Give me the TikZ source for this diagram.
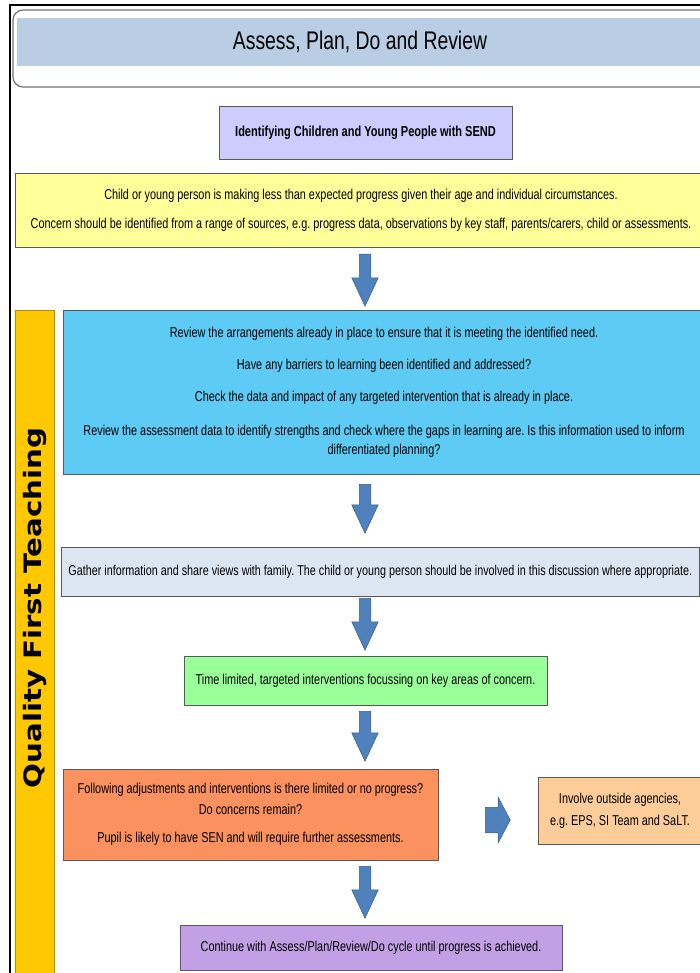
\documentclass[tikz,border=0pt]{standalone}
\usepackage{fontspec}
\setmainfont[FakeStretch=0.76]{Liberation Sans}
\newfontfamily\qftfont[FakeStretch=1.22]{DejaVu Sans}
\usetikzlibrary{shapes.arrows,shadows}
\definecolor{titlebar}{RGB}{185,205,229}
\definecolor{identc}{RGB}{204,204,255}
\definecolor{yellowc}{RGB}{255,255,153}
\definecolor{bluec}{RGB}{94,203,245}
\definecolor{gatherc}{RGB}{220,230,242}
\definecolor{greenc}{RGB}{153,255,153}
\definecolor{orangec}{RGB}{250,145,95}
\definecolor{peachc}{RGB}{252,204,153}
\definecolor{purplec}{RGB}{195,160,230}
\definecolor{goldc}{RGB}{255,200,0}
\definecolor{arrowc}{RGB}{79,129,189}
\definecolor{arrowd}{RGB}{56,93,138}
\tikzset{
  box/.style={draw=black!65, line width=0.9pt, inner sep=0pt, align=center,
    font=\fontsize{14.3}{17}\selectfont,
    drop shadow={shadow xshift=1.2pt, shadow yshift=-1.2pt, opacity=0.35}},
  darrow/.style={single arrow, fill=arrowc, draw=arrowd, line width=0.5pt,
    inner xsep=0pt, inner ysep=5.5pt, minimum width=26pt, single arrow head extend=7.5pt,
    single arrow tip angle=50, rotate=-90, anchor=tail},
  rarrow/.style={single arrow, fill=arrowc, draw=arrowd, line width=0.5pt,
    inner xsep=0pt, inner ysep=12.5pt, minimum width=45pt, single arrow head extend=10pt,
    single arrow tip angle=124, minimum height=25pt, anchor=tail},
}
\frenchspacing
\begin{document}
\begin{tikzpicture}[x=1pt,y=-1pt]
\useasboundingbox (0,0) rectangle (700,973);
\clip (0,0) rectangle (700,973);
% outer frame
\draw[line width=2pt, black] (10,973) -- (10,5.5) -- (705,5.5);
\draw[line width=1.2pt, black!55, rounded corners=10pt] (13,87) rectangle (720,10);
\fill[titlebar] (17,18) rectangle (705,66);
\node[font=\fontsize{25.5}{30}\selectfont] (title) at (360,42) {Assess, Plan, Do and Review};
% identifying
\node[box, fill=identc, minimum width=293pt, minimum height=53pt,
  font=\bfseries\fontsize{14.5}{17}\selectfont] (ident) at (365.5,132.5)
  {Identifying Children and Young People with SEND};
% yellow
\node[box, fill=yellowc, minimum width=692pt, minimum height=74pt] (concern) at (361,210)
  {Child or young person is making less than expected progress given their age and individual circumstances.\\[12pt]
   Concern should be identified from a range of sources, e.g. progress data, observations by key staff, parents/carers, child or assessments.};
\node[darrow, minimum height=52pt] (a1) at (365,254) {};
% QFT bar
\node[draw=goldc!70!black, line width=0.8pt, fill=goldc, minimum width=39pt,
  minimum height=700pt, inner sep=0pt] (qft) at (34.5,660) {};
\node[rotate=90, font=\qftfont\bfseries\fontsize{24}{28}\selectfont] (qfttext) at (35,608) {Quality First Teaching};
% blue
\node[box, fill=bluec, minimum width=642pt, minimum height=164pt,
  font=\fontsize{14.3}{18.5}\selectfont] (review) at (384,392)
  {Review the arrangements already in place to ensure that it is meeting the identified need.\\[13.5pt]
   Have any barriers to learning been identified and addressed?\\[13.5pt]
   Check the data and impact of any targeted intervention that is already in place.\\[16pt]
   Review the assessment data to identify strengths and check where the gaps in learning are. Is this information used to inform\\
   differentiated planning?};
\node[darrow, minimum height=49pt] (a2) at (365,484) {};
% gather
\node[box, fill=gatherc, anchor=west, minimum height=49pt, inner xsep=7pt,
  font=\fontsize{14.2}{17}\selectfont] (gather) at (61,571.5)
  {Gather information and share views with family. The child or young person should be involved in this discussion where appropriate.};
\node[darrow, minimum height=52pt] (a3) at (365,598) {};
% green
\node[box, fill=greenc, minimum width=363pt, minimum height=49pt] (interv) at (365.5,680.5)
  {Time limited, targeted interventions focussing on key areas of concern.};
\node[darrow, minimum height=50pt] (a4) at (365,711) {};
% orange
\node[box, fill=orangec, minimum width=375pt, minimum height=91pt] (progress) at (250.5,814.5)
  {Following adjustments and interventions is there limited or no progress?\\[4pt]
   Do concerns remain?\\[11pt]
   Pupil is likely to have SEN and will require further assessments.};
\node[rarrow] (ra) at (485,820) {};
% peach
\node[box, fill=peachc, minimum width=164pt, minimum height=67pt] (agencies) at (620,810.5)
  {Involve outside agencies,\\[5pt] e.g. EPS, SI Team and SaLT.};
\node[darrow, minimum height=52pt] (a5) at (365,866) {};
% purple
\node[box, fill=purplec, minimum width=382pt, minimum height=45pt] (cycle) at (371,947.5)
  {Continue with Assess/Plan/Review/Do cycle until progress is achieved.};
\end{tikzpicture}
\end{document}
